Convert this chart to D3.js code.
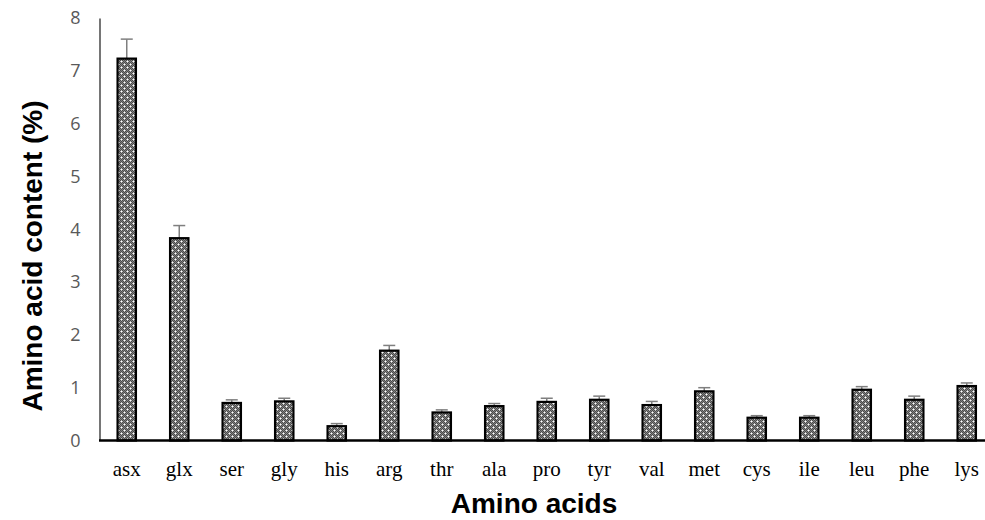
<!DOCTYPE html>
<html>
<head>
<meta charset="utf-8">
<script src="https://cdn.jsdelivr.net/npm/d3@7"></script>
<style>
  html, body { margin: 0; padding: 0; background: #fff; }
  svg { display: block; }
</style>
</head>
<body>
<svg id="chart" width="985" height="520"></svg>
<script>
// Amino acid composition (% of sample), mean and standard deviation
const aminoAcids = ["asx", "glx", "ser", "gly", "his", "arg", "thr", "ala", "pro",
                    "tyr", "val", "met", "cys", "ile", "leu", "phe", "lys"];
const contentMean = [7.25, 3.85, 0.73, 0.76, 0.29, 1.72, 0.55, 0.67, 0.75,
                     0.79, 0.69, 0.95, 0.45, 0.45, 0.98, 0.79, 1.05];
const contentSD   = [0.35, 0.22, 0.04, 0.04, 0.03, 0.08, 0.03, 0.03, 0.05,
                     0.05, 0.05, 0.05, 0.02, 0.02, 0.04, 0.05, 0.04];
const yTicks = [0, 1, 2, 3, 4, 5, 6, 7, 8];

const rows = aminoAcids.map((k, i) => ({ key: k, mean: contentMean[i], sd: contentSD[i] }));

const svg = d3.select("#chart");

// Dotted-diamond fill used for the bars
const defs = svg.append("defs");
const pat = defs.append("pattern")
  .attr("id", "dots")
  .attr("patternUnits", "userSpaceOnUse")
  .attr("width", 6).attr("height", 6);
pat.append("rect").attr("width", 6).attr("height", 6).attr("fill", "#808080");
// fine checker
[[0,0],[2,0],[4,0],[1,1],[3,1],[5,1],[0,2],[2,2],[4,2],[1,3],[3,3],[5,3],[0,4],[2,4],[4,4],[1,5],[3,5],[5,5]]
  .forEach(([x, y]) => pat.append("rect").attr("x", x).attr("y", y).attr("width", 1).attr("height", 1).attr("fill", "#4a4a4a"));
// white crosses
[[1.5,1.5],[4.5,4.5]].forEach(([cx, cy]) => {
  pat.append("rect").attr("x", cx - 1).attr("y", cy - 0.5).attr("width", 2).attr("height", 1).attr("fill", "#ffffff");
  pat.append("rect").attr("x", cx - 0.5).attr("y", cy - 1).attr("width", 1).attr("height", 2).attr("fill", "#ffffff");
});

const x = d3.scaleBand()
  .domain(aminoAcids)
  .range([100.5, 993])
  .paddingInner(0)
  .paddingOuter(0);

const y = d3.scaleLinear()
  .domain([0, 8])
  .range([440.5, 18]);

const barW = x.bandwidth() * 0.35;

// Y tick labels (no tick marks)
const yAxis = svg.append("g")
  .attr("transform", "translate(99.5,0)")
  .call(d3.axisLeft(y).tickValues(yTicks).tickSize(0).tickPadding(19).tickFormat(d3.format("d")));
yAxis.select(".domain").attr("stroke", "#1a1a1a").attr("stroke-width", 1.2);
yAxis.selectAll("text")
  .attr("font-family", "'Open Sans', sans-serif")
  .attr("font-size", 18)
  .attr("fill", "#595959");

// Error bars (upper half)
const err = svg.append("g").attr("class", "errors");
rows.forEach(d => {
  const cx = x(d.key) + x.bandwidth() / 2;
  err.append("line")
    .attr("x1", cx).attr("x2", cx)
    .attr("y1", y(d.mean) + 6).attr("y2", y(d.mean + d.sd))
    .attr("stroke", "#7f7f7f").attr("stroke-width", 1.5);
  err.append("line")
    .attr("x1", cx - 6).attr("x2", cx + 6)
    .attr("y1", y(d.mean + d.sd)).attr("y2", y(d.mean + d.sd))
    .attr("stroke", "#7f7f7f").attr("stroke-width", 1.5);
});

// Bars
svg.append("g").selectAll("rect")
  .data(rows)
  .join("rect")
  .attr("x", d => x(d.key) + (x.bandwidth() - barW) / 2)
  .attr("y", d => y(d.mean) + 1)
  .attr("width", barW)
  .attr("height", d => y(0) - y(d.mean) - 1)
  .attr("fill", "url(#dots)")
  .attr("stroke", "#000")
  .attr("stroke-width", 2.2);

// X axis baseline and category labels
const xAxis = svg.append("g")
  .attr("transform", `translate(0,${y(0)})`)
  .call(d3.axisBottom(x).tickSize(0).tickPadding(21));
xAxis.select(".domain").remove();
svg.append("line")
  .attr("x1", 99).attr("x2", 985)
  .attr("y1", y(0)).attr("y2", y(0))
  .attr("stroke", "#000").attr("stroke-width", 2.5);
xAxis.selectAll("text")
  .attr("font-family", "'Liberation Serif', 'Times New Roman', serif")
  .attr("font-size", 21)
  .attr("fill", "#000");

// Axis titles
svg.append("text")
  .attr("x", 534).attr("y", 513)
  .attr("text-anchor", "middle")
  .attr("font-family", "'Liberation Sans', Arial, sans-serif")
  .attr("font-weight", "bold")
  .attr("font-size", 28)
  .text("Amino acids");

svg.append("text")
  .attr("transform", "translate(42,256) rotate(-90)")
  .attr("text-anchor", "middle")
  .attr("font-family", "'Liberation Sans', Arial, sans-serif")
  .attr("font-weight", "bold")
  .attr("font-size", 28)
  .text("Amino acid content (%)");
</script>
</body>
</html>
